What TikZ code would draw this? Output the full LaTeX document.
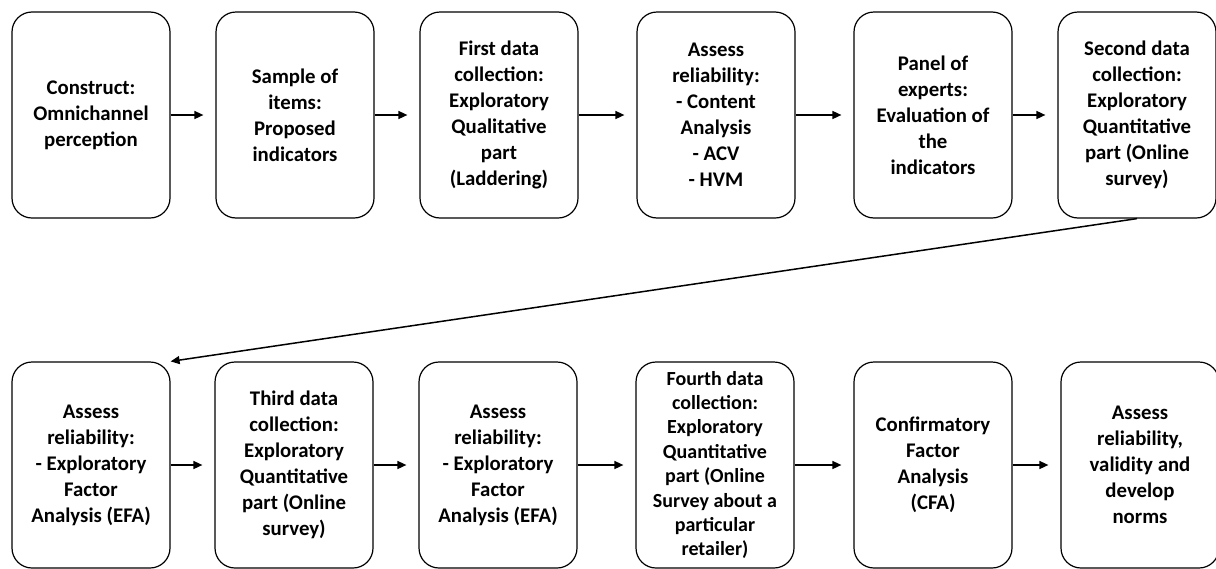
\documentclass[tikz,border=0pt]{standalone}
\usepackage{fontspec}
\setmainfont{Carlito}
\usetikzlibrary{arrows.meta}
\begin{document}
\begin{tikzpicture}[x=0.5pt, y=-0.5pt,
  every node/.style={font=\fontsize{10.4}{13}\selectfont\bfseries},
  stage/.style={draw, line width=0.6pt, rounded corners=10pt, minimum width=79pt,
    minimum height=103pt, align=center, inner sep=1pt},
  flow/.style={-{Triangle[length=4.5pt,width=4pt]}, line width=0.75pt, shorten >=6pt}]
  \useasboundingbox (0,0) rectangle (1216,568);

  % first row
  \node[stage] (construct) at (91,115) {Construct:\\Omnichannel\\perception};
  \node[stage] (items) at (295,115) {Sample of\\items:\\Proposed\\indicators};
  \node[stage] (first) at (499,115) {First data\\collection:\\Exploratory\\Qualitative\\part\\(Laddering)};
  \node[stage] (content) at (716,115) {Assess\\reliability:\\- Content\\Analysis\\- ACV\\- HVM};
  \node[stage] (panel) at (933,115) {Panel of\\experts:\\Evaluation of\\the\\indicators};
  \node[stage] (second) at (1137,115) {Second data\\collection:\\Exploratory\\Quantitative\\part (Online\\survey)};

  % second row
  \node[stage] (efa) at (91,465) {Assess\\reliability:\\- Exploratory\\Factor\\Analysis (EFA)};
  \node[stage] (third) at (294,465) {Third data\\collection:\\Exploratory\\Quantitative\\part (Online\\survey)};
  \node[stage] (efabis) at (498,465) {Assess\\reliability:\\- Exploratory\\Factor\\Analysis (EFA)};
  \node[stage, font=\fontsize{10}{12.2}\selectfont\bfseries] (fourth) at (715,465)
    {Fourth data\\collection:\\Exploratory\\Quantitative\\part (Online\\Survey about a\\particular\\retailer)};
  \node[stage] (cfa) at (933,465) {Confirmatory\\Factor\\Analysis\\(CFA)};
  \node[stage] (norms) at (1140,465) {Assess\\reliability,\\validity and\\develop\\norms};

  \draw[flow] (construct) -- (items);
  \draw[flow] (items) -- (first);
  \draw[flow] (first) -- (content);
  \draw[flow] (content) -- (panel);
  \draw[flow] (panel) -- (second);
  \draw[flow, shorten >=0pt] (second.south) -- (efa.north east);
  \draw[flow] (efa) -- (third);
  \draw[flow] (third) -- (efabis);
  \draw[flow] (efabis) -- (fourth);
  \draw[flow] (fourth) -- (cfa);
  \draw[flow] (cfa) -- (norms);
\end{tikzpicture}
\end{document}
